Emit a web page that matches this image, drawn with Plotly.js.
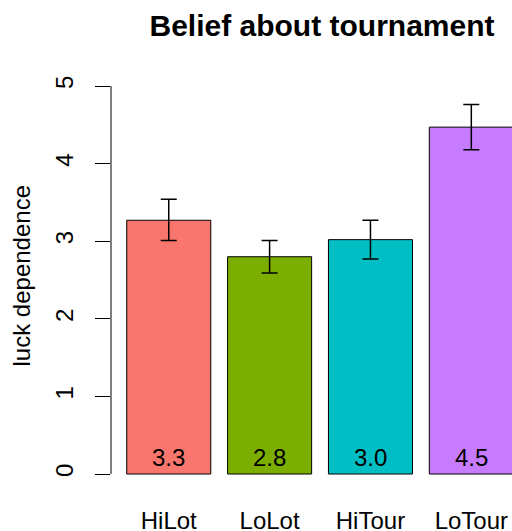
<!DOCTYPE html>
<html><head><meta charset="utf-8">
<script src="https://cdn.plot.ly/plotly-3.0.1.min.js"></script>
<style>html,body{margin:0;padding:0;background:#fff}</style>
</head><body><div id="chart" style="width:512px;height:531px"></div>
<script>
const categories = ["HiLot", "LoLot", "HiTour", "LoTour"];
const means = [3.27, 2.80, 3.02, 4.47];
const upperCI = [3.54, 3.01, 3.27, 4.76];
const lowerCI = [3.01, 2.59, 2.77, 4.18];
const colors = ["#F8766D", "#7CAE00", "#00BFC4", "#C77CFF"];
const yTicks = [0, 1, 2, 3, 4, 5];

const xpos = categories.map((c, i) => 0.7 + 1.2 * i);
const FONT = "Liberation Sans, Arial, Helvetica, sans-serif";

const trace = {
  type: "bar",
  x: xpos,
  y: means,
  width: 1,
  marker: {color: colors, line: {color: "#000", width: 1}},
  error_y: {
    type: "data", symmetric: false,
    array: upperCI.map((u, i) => u - means[i]),
    arrayminus: lowerCI.map((l, i) => means[i] - l),
    color: "#000", thickness: 1.5, width: 8
  },
  hoverinfo: "none"
};

const annotations = means.map((m, i) => ({
  x: xpos[i], y: 0, xref: "x", yref: "y",
  text: m.toFixed(1), showarrow: false,
  yanchor: "bottom", yshift: 1,
  font: {family: FONT, size: 24, color: "#000"}
}));
annotations.push({
  xref: "paper", yref: "paper", x: (21 - 111) / 401, y: 1 - (276.5 - 60) / 430,
  text: "luck dependence", textangle: -90, showarrow: false,
  xanchor: "center", yanchor: "middle",
  font: {family: FONT, size: 24, color: "#000"}
});

const layout = {
  width: 512, height: 531,
  margin: {l: 111, r: 0, t: 60, b: 41, pad: 0},
  paper_bgcolor: "#fff", plot_bgcolor: "#fff",
  showlegend: false,
  title: {
    text: "<b>Belief about tournament</b>",
    xref: "container", yref: "container",
    x: 322 / 512, y: 1 - 25 / 531, xanchor: "center", yanchor: "middle",
    font: {family: FONT, size: 30, color: "#000"}
  },
  xaxis: {
    range: [0.013, 4.784],
    tickvals: xpos, ticktext: categories,
    ticks: "", showgrid: false, zeroline: false, showline: false,
    ticklabelstandoff: 14,
    tickfont: {family: FONT, size: 24, color: "#000"}
  },
  yaxis: {
    range: [-0.206, 5.335],
    tickvals: yTicks, ticktext: yTicks.map(String),
    ticks: "outside", ticklen: 15, tickwidth: 1, tickcolor: "#000",
    tickangle: -90, ticklabelstandoff: 12,
    showgrid: false, zeroline: false, showline: false,
    tickfont: {family: FONT, size: 24, color: "#000"}
  },
  shapes: [{
    type: "line", xref: "paper", yref: "y",
    x0: 0, x1: 0, y0: 0, y1: 5,
    line: {color: "#000", width: 1}
  }],
  annotations: annotations
};

Plotly.newPlot("chart", [trace], layout, {displayModeBar: false, staticPlot: true});
</script>
</body></html>
